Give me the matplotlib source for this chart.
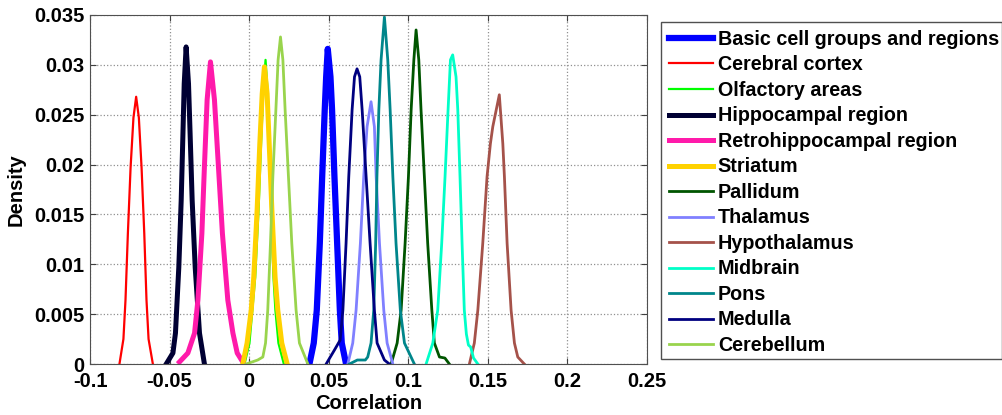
import numpy as np
import matplotlib
matplotlib.use("Agg")
import matplotlib.pyplot as plt
from matplotlib.patches import Rectangle

# density curves (correlation, density)
basic_x = [0.0379, 0.0406, 0.0425, 0.0444, 0.0459, 0.0475, 0.0484, 0.0494, 0.0511, 0.0521, 0.0536, 0.0553, 0.0570, 0.0582, 0.0609]
basic_y = [0.0, 0.0021, 0.0054, 0.0121, 0.0188, 0.0255, 0.0288, 0.0316, 0.0288, 0.0255, 0.0188, 0.0121, 0.0054, 0.0021, 0.0]

cortex_x = [-0.0815, -0.0790, -0.0777, -0.0762, -0.0745, -0.0727, -0.0710, -0.0693, -0.0676, -0.0659, -0.0645, -0.0632, -0.0605]
cortex_y = [0.0, 0.0025, 0.0064, 0.0131, 0.0197, 0.0247, 0.0268, 0.0247, 0.0197, 0.0131, 0.0064, 0.0025, 0.0]

olfactory_x = [-0.0029, 0.0002, 0.0038, 0.0059, 0.0075, 0.0088, 0.0103, 0.0117, 0.0126, 0.0138, 0.0153, 0.0165, 0.0184, 0.0218]
olfactory_y = [0.0, 0.0021, 0.0087, 0.0154, 0.0221, 0.0271, 0.0305, 0.0271, 0.0221, 0.0154, 0.0087, 0.0054, 0.0021, 0.0]

hippo_x = [-0.0521, -0.0479, -0.0463, -0.0442, -0.0427, -0.0416, -0.0408, -0.0396, -0.0381, -0.0371, -0.0358, -0.0339, -0.0312, -0.0281]
hippo_y = [0.0, 0.0011, 0.0031, 0.0097, 0.0164, 0.0231, 0.0281, 0.0318, 0.0281, 0.0231, 0.0164, 0.0097, 0.0031, 0.0]

retro_x = [-0.0438, -0.0385, -0.0343, -0.0322, -0.0297, -0.0281, -0.0264, -0.0243, -0.0218, -0.0193, -0.0168, -0.0134, -0.0102, -0.0075, -0.0040]
retro_y = [0.0002, 0.0011, 0.0031, 0.0064, 0.0131, 0.0198, 0.0265, 0.0303, 0.0265, 0.0198, 0.0131, 0.0064, 0.0031, 0.0011, 0.0002]

striatum_x = [-0.0040, -0.0013, 0.0013, 0.0029, 0.0050, 0.0067, 0.0082, 0.0096, 0.0113, 0.0126, 0.0143, 0.0163, 0.0180, 0.0205, 0.0239]
striatum_y = [0.0, 0.0021, 0.0054, 0.0087, 0.0154, 0.0221, 0.0271, 0.0298, 0.0271, 0.0221, 0.0154, 0.0087, 0.0054, 0.0021, 0.0]

pallidum_x = [0.0892, 0.0930, 0.0955, 0.0980, 0.1001, 0.1018, 0.1035, 0.1049, 0.1066, 0.1080, 0.1101, 0.1122, 0.1148, 0.1164, 0.1196, 0.1230, 0.1258]
pallidum_y = [0.0, 0.0021, 0.0054, 0.0121, 0.0188, 0.0255, 0.0305, 0.0335, 0.0305, 0.0255, 0.0188, 0.0121, 0.0054, 0.0021, 0.0007, 0.0006, 0.0]

thalamus_x = [0.0620, 0.0651, 0.0672, 0.0699, 0.0720, 0.0741, 0.0766, 0.0787, 0.0798, 0.0819, 0.0846, 0.0867, 0.0903]
thalamus_y = [0.0, 0.0021, 0.0054, 0.0121, 0.0188, 0.0238, 0.0263, 0.0238, 0.0188, 0.0121, 0.0054, 0.0021, 0.0]

hypothal_x = [0.1384, 0.1415, 0.1437, 0.1468, 0.1495, 0.1516, 0.1531, 0.1572, 0.1594, 0.1604, 0.1621, 0.1646, 0.1667, 0.1688, 0.1729]
hypothal_y = [0.0, 0.0021, 0.0054, 0.0121, 0.0188, 0.0221, 0.0238, 0.0270, 0.0221, 0.0188, 0.0121, 0.0054, 0.0021, 0.0007, 0.0]

midbrain_x = [0.1112, 0.1154, 0.1185, 0.1210, 0.1231, 0.1250, 0.1265, 0.1279, 0.1300, 0.1311, 0.1325, 0.1338, 0.1352, 0.1365, 0.1378, 0.1392, 0.1410, 0.1437]
midbrain_y = [0.0, 0.0021, 0.0054, 0.0121, 0.0188, 0.0255, 0.0305, 0.0310, 0.0288, 0.0255, 0.0188, 0.0121, 0.0054, 0.0030, 0.0019, 0.0017, 0.0006, 0.0]

pons_x = [0.0630, 0.0680, 0.0730, 0.0745, 0.0766, 0.0783, 0.0795, 0.0803, 0.0815, 0.0829, 0.0850, 0.0871, 0.0886, 0.0903, 0.0923, 0.0950, 0.0976, 0.1038]
pons_y = [0.0, 0.0004, 0.0004, 0.0007, 0.0021, 0.0054, 0.0121, 0.0188, 0.0255, 0.0305, 0.0348, 0.0305, 0.0255, 0.0188, 0.0121, 0.0054, 0.0021, 0.0]

medulla_x = [0.0484, 0.0536, 0.0572, 0.0589, 0.0609, 0.0626, 0.0647, 0.0662, 0.0678, 0.0695, 0.0710, 0.0735, 0.0760, 0.0787, 0.0804, 0.0850, 0.0881]
medulla_y = [0.0, 0.0014, 0.0024, 0.0054, 0.0121, 0.0188, 0.0255, 0.0288, 0.0296, 0.0288, 0.0255, 0.0188, 0.0121, 0.0054, 0.0021, 0.0004, 0.0]

cerebellum_x = [-0.0019, 0.0054, 0.0086, 0.0103, 0.0117, 0.0134, 0.0149, 0.0168, 0.0182, 0.0197, 0.0212, 0.0226, 0.0247, 0.0268, 0.0295, 0.0316, 0.0369]
cerebellum_y = [0.0, 0.0004, 0.0007, 0.0021, 0.0054, 0.0121, 0.0188, 0.0255, 0.0305, 0.0328, 0.0305, 0.0255, 0.0188, 0.0121, 0.0054, 0.0021, 0.0]

regions = ["Basic cell groups and regions", "Cerebral cortex", "Olfactory areas",
           "Hippocampal region", "Retrohippocampal region", "Striatum", "Pallidum",
           "Thalamus", "Hypothalamus", "Midbrain", "Pons", "Medulla", "Cerebellum"]
colors = ["#0000FF", "#FF0000", "#00FF00", "#000033", "#FF1AAA", "#FFD200", "#005500",
          "#8080FF", "#A5524A", "#00FFC8", "#00868B", "#000080", "#99D44D"]
widths = [4.5, 1.6, 1.6, 3.6, 3.6, 3.6, 2.0, 2.0, 2.0, 2.0, 2.0, 2.0, 2.0]
xs = [basic_x, cortex_x, olfactory_x, hippo_x, retro_x, striatum_x, pallidum_x,
      thalamus_x, hypothal_x, midbrain_x, pons_x, medulla_x, cerebellum_x]
ys = [basic_y, cortex_y, olfactory_y, hippo_y, retro_y, striatum_y, pallidum_y,
      thalamus_y, hypothal_y, midbrain_y, pons_y, medulla_y, cerebellum_y]

xticks = [-0.1, -0.05, 0, 0.05, 0.1, 0.15, 0.2, 0.25]
xtick_labels = ["-0.1", "-0.05", "0", "0.05", "0.1", "0.15", "0.2", "0.25"]
yticks = [0, 0.005, 0.01, 0.015, 0.02, 0.025, 0.03, 0.035]
ytick_labels = ["0", "0.005", "0.01", "0.015", "0.02", "0.025", "0.03", "0.035"]

plt.rcParams['font.family'] = ['Liberation Sans', 'DejaVu Sans']
plt.rcParams['font.weight'] = 'bold'

fig = plt.figure(figsize=(10.03, 4.15), dpi=100)
ax = fig.add_axes([90 / 1003, 1 - 364 / 415, 557 / 1003, 349 / 415])

for x, y, c, w, name in zip(xs, ys, colors, widths, regions):
    ax.plot(x, y, color=c, lw=w, label=name, solid_joinstyle='round')

ax.set_xlim(-0.1, 0.25)
ax.set_ylim(0, 0.035)
ax.set_xticks(xticks)
ax.set_xticklabels(xtick_labels)
ax.set_yticks(yticks)
ax.set_yticklabels(ytick_labels)
ax.tick_params(direction='in', top=True, right=True, length=4, labelsize=14.5,
               color='#404040')
ax.tick_params(axis='x', pad=6)
ax.tick_params(axis='y', pad=4)
ax.grid(True, linestyle=':', color='#909090', lw=0.9)
for s in ax.spines.values():
    s.set_color('#505050')
ax.set_xlabel("Correlation", fontsize=14.5, fontweight='bold', labelpad=2)
ax.set_ylabel("Density", fontsize=14.5, fontweight='bold', labelpad=6)

leg = fig.legend(loc='upper left', bbox_to_anchor=(661 / 1003, 1 - 22 / 415),
                 borderaxespad=0, frameon=False, fontsize=14.2, handlelength=2.23,
                 handletextpad=0.25, labelspacing=0.33, borderpad=0.4)
fig.add_artist(Rectangle((661 / 1003, 1 - 359 / 415), 341 / 1003, 337 / 415,
                         transform=fig.transFigure, fill=False,
                         edgecolor='#505050', lw=1.0))

fig.savefig("out.png", dpi=100)
